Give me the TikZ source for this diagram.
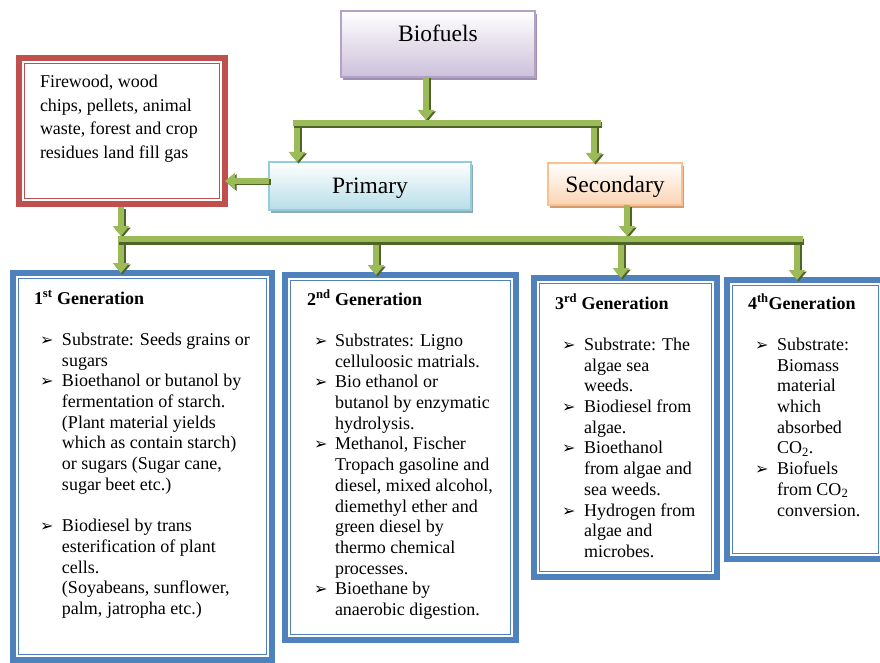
\documentclass[tikz,border=0pt]{standalone}
\usepackage{fontspec}
\setmainfont{Liberation Serif}
\newfontfamily\bulfont{DejaVu Sans}
\usetikzlibrary{arrows.meta,shadows}
\definecolor{gmain}{HTML}{9BBB59}
\definecolor{gdark}{HTML}{4F6228}
\definecolor{fred}{HTML}{C0504D}
\definecolor{gblue}{HTML}{4F81BD}
\definecolor{bioborder}{HTML}{B3A2C7}
\definecolor{biobot}{HTML}{CCC0DA}
\definecolor{bioshadow}{HTML}{9E8FB0}
\definecolor{primborder}{HTML}{93CDDD}
\definecolor{primbot}{HTML}{B7DEE8}
\definecolor{primshadow}{HTML}{8FA9B5}
\definecolor{secborder}{HTML}{FAC090}
\definecolor{secbot}{HTML}{FBD4B4}
\definecolor{secshadow}{HTML}{D09C70}
\newlength\bind
\newlength\bwid
\newcommand\bitem[1]{\hspace*{\bind}\makebox[\bwid][l]{\bulfont\fontsize{16}{16}\selectfont ➢}#1}
\newcommand\bcont[1]{\hspace*{\bind}\hspace*{\bwid}#1}
\tikzset{
  every node/.style={inner sep=0pt, outer sep=0pt},
  topbox/.style={line width=1.2pt, font=\fontsize{23.5}{28}\selectfont, text height=16pt, text depth=5pt},
  biobox/.style={topbox, draw=bioborder, top color=white, bottom color=biobot,
    drop shadow={shadow xshift=2pt, shadow yshift=-3pt, opacity=1, fill=bioshadow}},
  primbox/.style={topbox, draw=primborder, top color=white, bottom color=primbot,
    drop shadow={shadow xshift=2pt, shadow yshift=-3pt, opacity=1, fill=primshadow}},
  secbox/.style={topbox, draw=secborder, top color=white, bottom color=secbot,
    drop shadow={shadow xshift=2pt, shadow yshift=-3pt, opacity=1, fill=secshadow}},
  fwbox/.style={draw=fred, line width=6pt, fill=white},
  fwinner/.style={draw=fred, line width=1.3pt},
  genbox/.style={draw=gblue, line width=6pt, fill=white},
  geninner/.style={draw=gblue, line width=1.3pt},
  bodytext/.style={anchor=base west, font=\fontsize{18}{20.7}\selectfont, text=black},
  garrow/.style={line width=6pt, draw=gmain, -{Triangle[width=16pt,length=10pt]},
    preaction={draw=gdark, line width=6pt, -{Triangle[width=16pt,length=10pt]},
      transform canvas={shift={(1.5pt,-1.5pt)}}}},
  gbar/.style={line width=6pt, draw=gmain, line cap=butt,
    preaction={draw=gdark, line width=6pt, transform canvas={shift={(1pt,-2.5pt)}}}}
}
\begin{document}
\begin{tikzpicture}[x=1pt, y=-1pt]
\useasboundingbox (0,0) rectangle (880,663);
\fill[white] (0,0) rectangle (880,663);

% top boxes
\node[biobox, minimum width=194pt, minimum height=66pt, text height=16pt, text depth=20pt] (bio) at (438,44) {Biofuels};
\node[primbox, minimum width=202pt, minimum height=48pt, text height=19pt, text depth=4pt] (prim) at (370,186) {Primary};
\node[secbox, minimum width=134pt, minimum height=42pt, text height=20pt, text depth=3pt] (sec) at (615,184) {Secondary};

% firewood box
\node[fwbox, minimum width=206pt, minimum height=146pt] (fw) at (122,131) {};
\draw[fwinner] ([shift={(5.5,5.5)}]fw.north west) rectangle ([shift={(-5.5,-5.5)}]fw.south east);
\node[bodytext, font=\fontsize{18}{23.5}\selectfont] (fwt) at (40,88) {\begin{tabular}[t]{@{}l@{}}
Firewood, wood\\
chips, pellets, animal\\
waste, forest and crop\\
residues land fill gas
\end{tabular}};

% generation boxes
\node[genbox, minimum width=259pt, minimum height=387pt] (g1) at (142.5,466.5) {};
\draw[geninner] ([shift={(5.5,5.5)}]g1.north west) rectangle ([shift={(-5.5,-5.5)}]g1.south east);
\node[genbox, minimum width=231pt, minimum height=365pt] (g2) at (400.5,457.5) {};
\draw[geninner] ([shift={(5.5,5.5)}]g2.north west) rectangle ([shift={(-5.5,-5.5)}]g2.south east);
\node[genbox, minimum width=183pt, minimum height=299pt] (g3) at (625.5,427.5) {};
\draw[geninner] ([shift={(5.5,5.5)}]g3.north west) rectangle ([shift={(-5.5,-5.5)}]g3.south east);
\node[genbox, minimum width=157pt, minimum height=279pt] (g4) at (805.5,419.5) {};
\draw[geninner] ([shift={(5.5,5.5)}]g4.north west) rectangle ([shift={(-5.5,-5.5)}]g4.south east);

\node[bodytext] (t1) at (34,304) {\setlength\bind{6pt}\setlength\bwid{22pt}\begin{tabular}[t]{@{}l@{}}
\textbf{1\textsuperscript{st} Generation}\\
\\
\bitem{Substrate: Seeds grains or}\\
\bcont{sugars}\\
\bitem{Bioethanol or butanol by}\\
\bcont{fermentation of starch.}\\
\bcont{(Plant material yields}\\
\bcont{which as contain starch)}\\
\bcont{or sugars (Sugar cane,}\\
\bcont{sugar beet etc.)}\\
\\
\bitem{Biodiesel by trans}\\
\bcont{esterification of plant}\\
\bcont{cells.}\\
\bcont{(Soyabeans, sunflower,}\\
\bcont{palm, jatropha etc.)}
\end{tabular}};

\node[bodytext] (t2) at (307,305) {\setlength\bind{7pt}\setlength\bwid{21pt}\begin{tabular}[t]{@{}l@{}}
\textbf{2\textsuperscript{nd} Generation}\\
\\
\bitem{Substrates: Ligno}\\
\bcont{celluloosic matrials.}\\
\bitem{Bio ethanol or}\\
\bcont{butanol by enzymatic}\\
\bcont{hydrolysis.}\\
\bitem{Methanol, Fischer}\\
\bcont{Tropach gasoline and}\\
\bcont{diesel, mixed alcohol,}\\
\bcont{diemethyl ether and}\\
\bcont{green diesel by}\\
\bcont{thermo chemical}\\
\bcont{processes.}\\
\bitem{Bioethane by}\\
\bcont{anaerobic digestion.}
\end{tabular}};

\node[bodytext] (t3) at (555,309) {\setlength\bind{7pt}\setlength\bwid{22pt}\begin{tabular}[t]{@{}l@{}}
\textbf{3\textsuperscript{rd} Generation}\\
\\
\bitem{Substrate: The}\\
\bcont{algae sea}\\
\bcont{weeds.}\\
\bitem{Biodiesel from}\\
\bcont{algae.}\\
\bitem{Bioethanol}\\
\bcont{from algae and}\\
\bcont{sea weeds.}\\
\bitem{Hydrogen from}\\
\bcont{algae and}\\
\bcont{microbes.}
\end{tabular}};

\node[bodytext] (t4) at (748,309) {\setlength\bind{7pt}\setlength\bwid{22pt}\begin{tabular}[t]{@{}l@{}}
\textbf{4\textsuperscript{th}Generation}\\
\\
\bitem{Substrate:}\\
\bcont{Biomass}\\
\bcont{material}\\
\bcont{which}\\
\bcont{absorbed}\\
\bcont{CO\textsubscript{2}.}\\
\bitem{Biofuels}\\
\bcont{from CO\textsubscript{2}}\\
\bcont{conversion.}
\end{tabular}};

% junction coordinates
\coordinate (j1) at (426,120);
\coordinate (j2) at (297,125);
\coordinate (j3) at (594,125);
\coordinate (j5) at (121,236);
\coordinate (j6) at (627,236);
\coordinate (fwb) at ([yshift=-3pt]fw.south);
\coordinate (d1) at (121,242);
\coordinate (d2) at (376,242);
\coordinate (d3) at (621,242);
\coordinate (d4) at (797,242);
\coordinate (b1l) at (293,123);
\coordinate (b1r) at (601,123);
\coordinate (b2l) at (118,239);
\coordinate (b2r) at (803,239);

% arrows
\draw[garrow] (bio.south -| j1) -- (j1);
\draw[garrow] (j2) -- (j2 |- prim.north);
\draw[garrow] (j3) -- (j3 |- sec.north);
\draw[garrow] ([yshift=5pt]prim.west) -- ([yshift=5pt]prim.west -| fw.east);
\draw[garrow] (fwb -| j5) -- (j5);
\draw[garrow] (sec.south -| j6) -- (j6);
\draw[garrow] (d1) -- (d1 |- g1.north);
\draw[garrow] (d2) -- (d2 |- g2.north);
\draw[garrow] (d3) -- (d3 |- g3.north);
\draw[garrow] (d4) -- (d4 |- g4.north);

% bars
\draw[gbar] (b1l) -- (b1r);
\draw[gbar] (b2l) -- (b2r);
\end{tikzpicture}
\end{document}
